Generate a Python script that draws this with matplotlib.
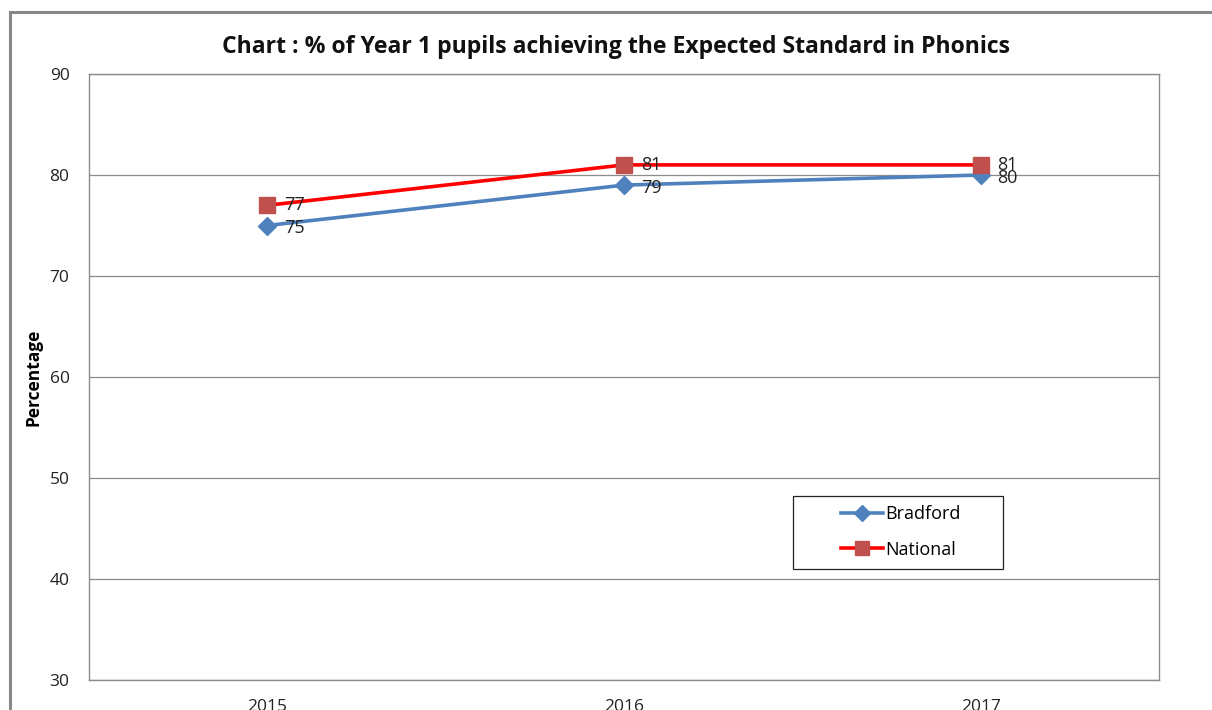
import matplotlib.pyplot as plt
from matplotlib.patches import Rectangle

years = ["2015", "2016", "2017"]
bradford = [75, 79, 80]
national = [77, 81, 81]
yticks = [30, 40, 50, 60, 70, 80, 90]

plt.rcParams['font.family'] = ['Open Sans', 'DejaVu Sans']

fig = plt.figure(figsize=(12.12, 7.10), dpi=100)
W, H = 1212, 710
ax = fig.add_axes([89 / W, 1 - 680 / H, (1159 - 89) / W, (680 - 74) / H])
aw, ah = 1159 - 89, 680 - 74

x = [i + 0.5 for i in range(len(years))]

ax.plot(x, bradford, color='#4F81BD', lw=2.6, marker='D', markersize=9,
        markerfacecolor='#4F81BD', markeredgecolor='#4F81BD', label='Bradford', zorder=3)
ax.plot(x, national, color='#FF0000', lw=2.6, marker='s', markersize=12,
        markerfacecolor='#C0504D', markeredgecolor='#C0504D', label='National', zorder=4)

for xi, v in zip(x, bradford):
    ax.annotate(str(v), (xi, v), xytext=(12, -2), textcoords='offset points',
                ha='left', va='center', fontsize=13, color='#222222', zorder=5)
for xi, v in zip(x, national):
    ax.annotate(str(v), (xi, v), xytext=(12, 0), textcoords='offset points',
                ha='left', va='center', fontsize=13, color='#222222', zorder=5)

ax.set_xlim(0, 3)
ax.set_ylim(30, 90)
ax.set_yticks(yticks)
ax.set_xticks(x)
ax.set_xticklabels(years)
ax.tick_params(axis='both', length=0, labelsize=12.5, colors='#222222')
ax.tick_params(axis='y', pad=14)
ax.tick_params(axis='x', pad=14)
ax.grid(axis='y', color='#8C8C8C', lw=0.9)
ax.set_axisbelow(True)
for s in ax.spines.values():
    s.set_color('#8C8C8C')
    s.set_linewidth(1.0)

ax.set_ylabel('Percentage', fontsize=12.5, fontweight='bold')
ax.yaxis.set_label_coords(-46 / aw, (680 - 377) / ah)

fig.text(616 / W, 1 - 47 / H, 'Chart : % of Year 1 pupils achieving the Expected Standard in Phonics',
         ha='center', va='center', fontsize=16.6, fontweight='bold', color='#111111')

# legend box drawn separately so its size matches the original fixed frame
ax.add_patch(Rectangle(((793 - 89) / aw, (680 - 569) / ah), 210 / aw, 73 / ah,
                       transform=ax.transAxes, facecolor='white', edgecolor='#222222',
                       lw=0.9, zorder=6, clip_on=False))
leg = ax.legend(loc='center left', bbox_to_anchor=((841 - 89) / aw, (680 - 532) / ah),
                fontsize=13, frameon=False, borderpad=0, labelspacing=0.95,
                handlelength=2.3, handletextpad=0.15, borderaxespad=0, markerscale=0.85)
leg.set_zorder(7)

fig.patches.append(Rectangle((10 / W, -0.1), 1.2, 1 - 12 / H + 0.1, transform=fig.transFigure,
                             fill=False, edgecolor='#888888', lw=2.2))

fig.savefig('out.png', dpi=100)
